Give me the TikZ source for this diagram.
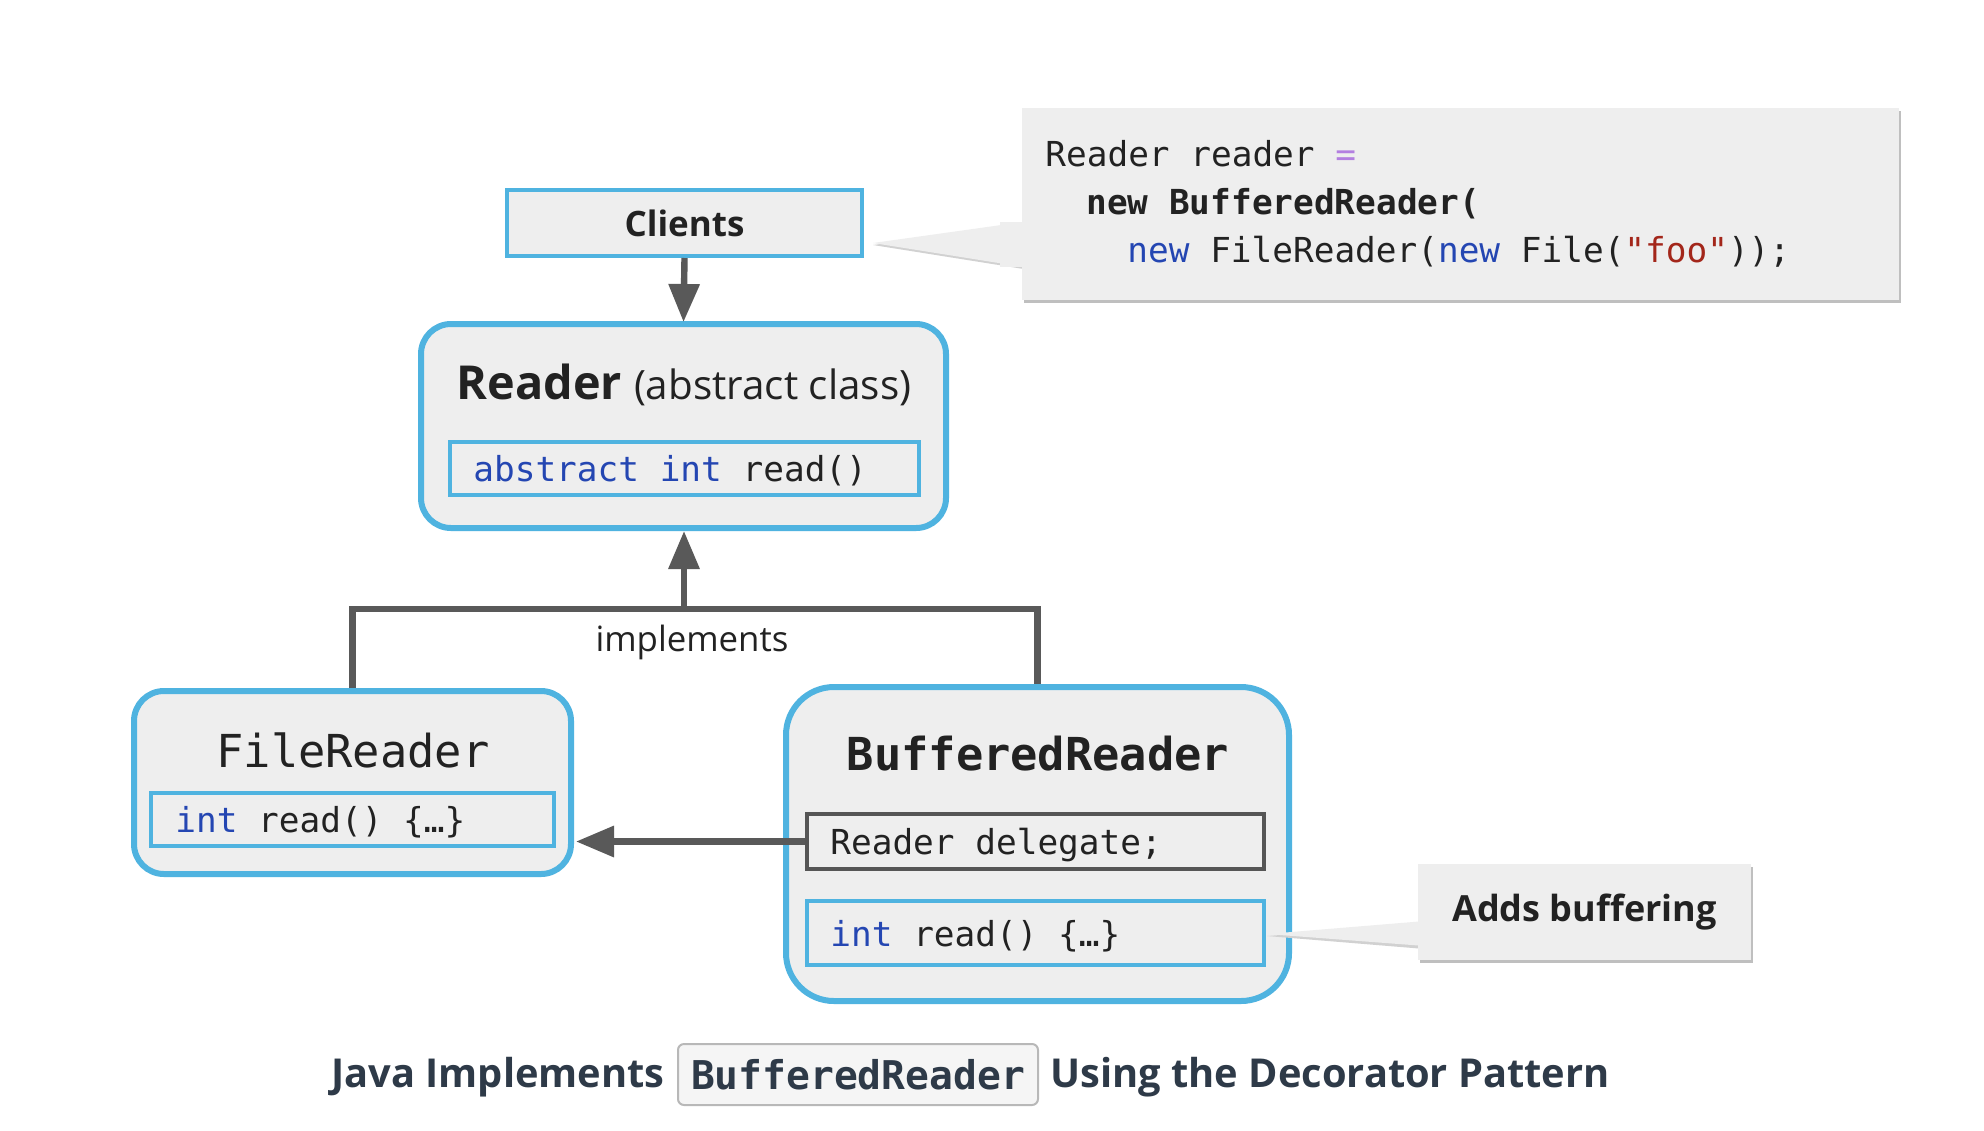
\documentclass[tikz,border=0pt]{standalone}
\usepackage{fontspec}
\setmainfont{Open Sans}
\newfontfamily\mono{DejaVu Sans Mono}
\usetikzlibrary{fit,arrows.meta,shadows}
\definecolor{cblue}{HTML}{4FB3E0}
\definecolor{cfill}{HTML}{EEEEEE}
\definecolor{carrow}{HTML}{595959}
\definecolor{kw}{HTML}{2446B2}
\definecolor{str}{HTML}{A3261A}
\definecolor{opc}{HTML}{B37FE0}
\definecolor{ctext}{HTML}{222222}
\definecolor{capt}{HTML}{2E3A48}
\definecolor{gborder}{HTML}{555555}
\newcommand{\kw}[1]{\textcolor{kw}{#1}}
\begin{document}
\begin{tikzpicture}[x=0.5pt,y=-0.5pt,
  every node/.style={text=ctext},
  classbox/.style={draw=cblue, line width=3pt, fill=cfill, rounded corners=15pt, inner sep=0pt},
  methbox/.style={draw=cblue, line width=2pt, fill=cfill, inner sep=0pt},
  fieldbox/.style={draw=gborder, line width=2pt, fill=cfill, inner sep=0pt},
  clientbox/.style={draw=cblue, line width=2pt, fill=cfill, inner sep=0pt},
  notebox/.style={fill=cfill, inner sep=0pt, drop shadow={shadow xshift=1pt, shadow yshift=-1.5pt, opacity=0.25, fill=black}},
  codetxt/.style={anchor=mid west, inner sep=0pt, font=\mono\fontsize{17.2}{20}\selectfont},
  titletxt/.style={inner sep=0pt, font=\mono\fontsize{22.7}{26}\selectfont},
  conn/.style={draw=carrow, line width=3.2pt},
  tip/.style={-{Triangle[length=19pt,width=15pt]}}
]
\useasboundingbox (0,0) rectangle (1984,1130);
\fill[white] (0,0) rectangle (1984,1130);

% code callout
\fill[black!18] (873,245) -- (1030,224) -- (1030,270) -- cycle;
\fill[cfill] (873,243) -- (1030,221) -- (1030,268) -- cycle;
\node[notebox, fit={(1022,108)(1899,300)}] (code) {};
\fill[cfill] (1000,222) -- (1030,222) -- (1030,267) -- (1000,267) -- cycle;
\node[codetxt] (c1) at (1045,161) {Reader reader \textcolor{opc}{=}};
\node[codetxt, font=\mono\fontsize{17.2}{20}\selectfont\bfseries] (c2) at (1086,209) {new BufferedReader(};
\node[codetxt] (c3) at (1127,257) {\kw{new} FileReader(\kw{new} File(\textcolor{str}{"foo"}));};

% Clients
\node[clientbox, fit={(507,190)(862,256)}] (clients) {};
\node[inner sep=0pt, font=\fontsize{17.5}{21}\selectfont\bfseries] (clientslbl) at (clients.center) {Clients};

% Reader
\node[classbox, fit={(421,324)(946,528)}] (reader) {};
\node[inner sep=0pt, anchor=base] (readerlbl) at (684,399) {{\fontsize{23.4}{26}\selectfont\bfseries Reader}\hspace{6pt}{\fontsize{20.2}{26}\selectfont(abstract class)}};
\node[methbox, fit={(450,442)(919,495)}] (readerm) {};
\node[codetxt] (readermt) at (473,476) {\kw{abstract int} read()};

\draw[conn, tip] (clients.south) -- (reader.south |- 0,322);

% FileReader
\node[classbox, fit={(134,691)(571,874)}] (fr) {};
\node[titletxt] (frlbl) at (353,750) {FileReader};
\node[methbox, fit={(151,793)(554,846)}] (frm) {};
\node[codetxt] (frmt) at (175,827) {\kw{int} read() \{…\}};

% BufferedReader
\node[classbox, rounded corners=24pt, fit={(786,687)(1289,1001)}] (br) {};
\node[titletxt, font=\mono\fontsize{22.7}{26}\selectfont\bfseries] (brlbl) at (1038,754) {BufferedReader};
\node[fieldbox, fit={(807,814)(1264,869)}] (brd) {};
\node[codetxt] (brdt) at (830,849) {Reader delegate;};
\node[methbox, fit={(807,901)(1264,965)}] (brm) {};
\node[codetxt] (brmt) at (830,941) {\kw{int} read() \{…\}};

% implements
\coordinate (j) at (684,609);
\draw[conn, line join=miter] (fr.north) |- (j) -| (br.north);
\draw[conn, tip] (j) -- (684,531);
\node[inner sep=0pt, font=\fontsize{17.4}{21}\selectfont] (impl) at (692,642) {implements};

% delegate arrow
\draw[conn, tip] (brd.west) -- (576,0 |- brd.west);

% Adds buffering callout
\fill[black!18] (1267,936) -- (1425,924) -- (1425,949) -- cycle;
\fill[cfill] (1267,934) -- (1425,921) -- (1425,946) -- cycle;
\node[notebox, fit={(1418,864)(1751,960)}] (adds) {};
\fill[cfill] (1410,922) -- (1425,922) -- (1425,945) -- (1410,945) -- cycle;
\node[inner sep=0pt, font=\fontsize{18}{22}\selectfont\bfseries] (addslbl) at (adds.center) {Adds buffering};

% caption
\node[inner sep=0pt, anchor=mid east, text=capt, font=\fontsize{19.9}{24}\selectfont\bfseries] (capl) at (665,1082) {Java Implements};
\node[draw=black!28, line width=1pt, fill=black!4, rounded corners=3pt, inner sep=0pt, fit={(678,1044)(1038,1105)}] (capbox) {};
\node[inner sep=0pt, text=capt, font=\mono\fontsize{19.8}{24}\selectfont\bfseries] (capm) at (capbox.center) {BufferedReader};
\node[inner sep=0pt, anchor=mid west, text=capt, font=\fontsize{19.9}{24}\selectfont\bfseries] (capr) at (1050,1082) {Using the Decorator Pattern};
\end{tikzpicture}
\end{document}
